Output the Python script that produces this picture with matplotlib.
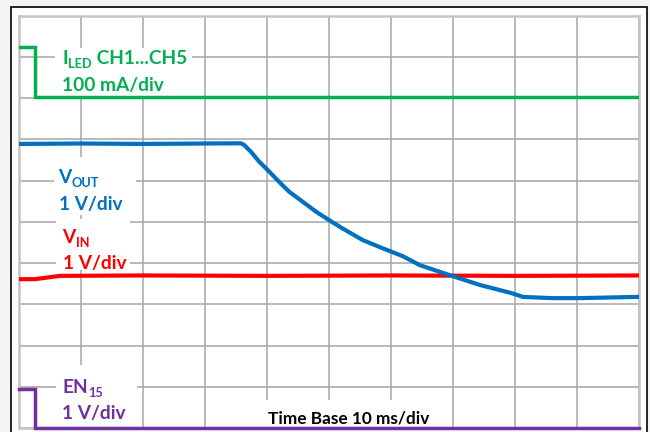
import matplotlib.pyplot as plt
from matplotlib.patches import Rectangle

plt.rcParams['font.family'] = ['Lato', 'DejaVu Sans']

# 数据（单位：div，时间轴 10 ms/div）
t_led = [0, 0.26, 0.26, 10]
i_led = [9.24, 9.24, 8.02, 8.02]

t_vout = [0, 1.0, 2.0, 3.0, 3.58, 3.634, 3.742, 3.876, 4.011, 4.198, 4.36, 4.576,
          4.79, 5.005, 5.221, 5.544, 5.866, 6.189, 6.468, 6.984, 7.435, 7.952,
          8.129, 8.6, 9.048, 9.984]
v_vout = [6.89, 6.90, 6.89, 6.90, 6.905, 6.864, 6.70, 6.46, 6.26, 5.97, 5.73, 5.49,
          5.25, 5.04, 4.84, 4.56, 4.36, 4.17, 3.95, 3.69, 3.47, 3.27,
          3.18, 3.15, 3.15, 3.18]

t_vin = [0, 0.26, 0.66, 2.0, 4.0, 6.0, 8.0, 10]
v_vin = [3.61, 3.61, 3.69, 3.70, 3.69, 3.70, 3.69, 3.70]

t_en = [0, 0.26, 0.26, 10]
v_en = [0.95, 0.95, 0.0, 0.0]

GREEN = '#00b050'
BLUE = '#0070c0'
RED = '#ff0000'
PURPLE = '#7030a0'

W, H = 650, 432


def fx(px):
    return px / W


def fy(py):
    return 1 - py / H


fig = plt.figure(figsize=(6.5, 4.32), dpi=100, facecolor='#f4f4f4')

# 外框（在坐标轴下面）
fig.patches.append(Rectangle((fx(10.5), fy(440)), fx(646.7) - fx(10.5), fy(7) - fy(440),
                             transform=fig.transFigure, facecolor='white',
                             edgecolor='black', lw=1.2, zorder=-5))

ax = fig.add_axes([fx(19), fy(428), fx(638.7) - fx(19), fy(15.7) - fy(428)])
ax.set_facecolor('white')
ax.set_xlim(0, 10)
ax.set_ylim(0, 10)
ax.set_xticks(range(11))
ax.set_yticks(range(11))
ax.tick_params(length=0, labelbottom=False, labelleft=False)
ax.grid(True, color='#a6a6a6', lw=1.1)
ax.set_axisbelow(True)
for sp in ax.spines.values():
    sp.set_color('#c4c4c4')
    sp.set_linewidth(1.8)

# 文字背景白框（像素坐标）
boxes = [(55, 48, 192, 96), (54, 157, 136, 215), (56, 219, 130, 270),
         (56, 365, 137, 432), (265, 400, 445, 432)]
for x0, y0, x1, y1 in boxes:
    ax.add_patch(Rectangle((fx(x0), fy(y1)), fx(x1) - fx(x0), fy(y0) - fy(y1),
                           transform=fig.transFigure, facecolor='white',
                           edgecolor='none', zorder=1.5, clip_on=False))

lw = 2.5
ax.plot(t_led, i_led, color=GREEN, lw=lw, zorder=3, solid_joinstyle='miter')
ax.plot(t_vin, v_vin, color=RED, lw=lw + 0.5, zorder=3)
ax.plot(t_vout, v_vout, color=BLUE, lw=lw + 0.5, zorder=4)
ax.plot(t_en, v_en, color=PURPLE, lw=lw, zorder=3, clip_on=False, solid_joinstyle='miter')

FS = 13.8
SUB = 9.2


def label(parts, px, py, color, size=FS):
    # parts: [(文字, 是否下标)]，后一段接在前一段右边
    first, _ = parts[0]
    t = ax.text(fx(px), fy(py), first, transform=fig.transFigure, color=color,
                fontsize=size, fontweight='bold', va='baseline', zorder=5, clip_on=False)
    for text, sub in parts[1:]:
        fs = SUB if sub else size
        dy = -4.0 if sub else 0
        dx = 0.5 if sub else 0
        t = ax.annotate(text, xy=(1, fy(py)), xycoords=(t, 'figure fraction'),
                        xytext=(dx, dy), textcoords='offset pixels',
                        color=color, fontsize=fs, fontweight='bold', va='baseline',
                        ha='left', annotation_clip=False, zorder=5)


label([('I', False), ('LED', True), (' CH1...CH5', False)], 62, 63.5, GREEN)
label([('100 mA/div', False)], 62, 90.5, GREEN)
label([('V', False), ('OUT', True)], 58, 183, BLUE)
label([('1 V/div', False)], 59, 210, BLUE)
label([('V', False), ('IN', True)], 62, 243, RED)
label([('1 V/div', False)], 63, 269, RED)
label([('EN', False), ('15', True)], 62, 393, PURPLE)
label([('1 V/div', False)], 62, 419, PURPLE)
ax.text(fx(268), fy(423), 'Time Base 10 ms/div', transform=fig.transFigure, color='black',
        fontsize=12.4, fontweight='bold', va='baseline', zorder=5, clip_on=False)

fig.savefig('out.png', dpi=100, facecolor=fig.get_facecolor())
